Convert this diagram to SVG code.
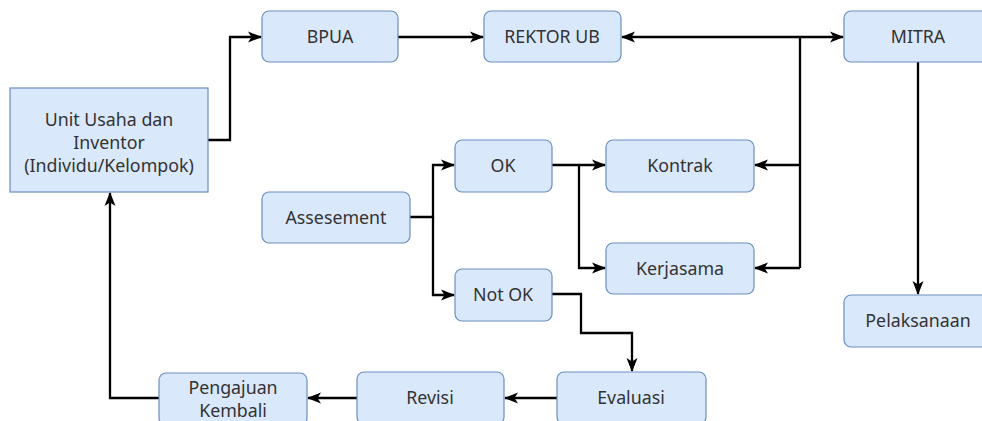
<svg xmlns="http://www.w3.org/2000/svg" width="982" height="421" viewBox="0 0 982 421">
<style>
.box{fill:#dae8fc;stroke:#6c8ebf;stroke-width:1.2}
.t{font-family:"Noto Sans","Open Sans",sans-serif;font-size:17.8px;fill:#333;text-anchor:middle}
.c{fill:none;stroke:#000;stroke-width:2.3}
</style>
<defs>
<marker id="arr" markerUnits="userSpaceOnUse" markerWidth="14" markerHeight="14" refX="13" refY="7" orient="auto-start-reverse" viewBox="0 0 14 14">
<path d="M0,1.5 L14,7 L0,12.5 L3.5,7 z" fill="#000"/>
</marker>
</defs>
<rect width="982" height="421" fill="#fff"/>
<g id="connectors">
<path class="c" d="M208,140 H230 V37 H261" marker-end="url(#arr)"/>
<path class="c" d="M398,37 H483" marker-end="url(#arr)"/>
<path class="c" d="M622,37 H843" marker-start="url(#arr)" marker-end="url(#arr)"/>
<path class="c" d="M800,37 V268"/>
<path class="c" d="M800,165 H755" marker-end="url(#arr)"/>
<path class="c" d="M800,268 H755" marker-end="url(#arr)"/>
<path class="c" d="M410,217 H433 V165 H454" marker-end="url(#arr)"/>
<path class="c" d="M433,217 V295 H454" marker-end="url(#arr)"/>
<path class="c" d="M552,165 H605" marker-end="url(#arr)"/>
<path class="c" d="M579,165 V268 H605" marker-end="url(#arr)"/>
<path class="c" d="M552,294 H581 V333 H632 V371" marker-end="url(#arr)"/>
<path class="c" d="M918,62 V294" marker-end="url(#arr)"/>
<path class="c" d="M557,398 H505" marker-end="url(#arr)"/>
<path class="c" d="M357,398 H308" marker-end="url(#arr)"/>
<path class="c" d="M159,398 H110 V193" marker-end="url(#arr)"/>
</g>
<g id="unit"><rect class="box" x="10" y="88" width="198" height="104"/>
<text class="t" x="109" y="126">Unit Usaha dan</text><text class="t" x="109" y="149">Inventor</text><text class="t" x="109" y="172">(Individu/Kelompok)</text></g>
<g id="bpua"><rect class="box" x="262" y="11" width="136" height="51" rx="7"/><text class="t" x="330" y="43">BPUA</text></g>
<g id="rektor"><rect class="box" x="484" y="11" width="137" height="51" rx="7"/><text class="t" x="552" y="43">REKTOR UB</text></g>
<g id="mitra"><rect class="box" x="844" y="11" width="148" height="51" rx="7"/><text class="t" x="918" y="43">MITRA</text></g>
<g id="ok"><rect class="box" x="455" y="140" width="97" height="52" rx="7"/><text class="t" x="503" y="172">OK</text></g>
<g id="kontrak"><rect class="box" x="606" y="140" width="148" height="52" rx="7"/><text class="t" x="680" y="172">Kontrak</text></g>
<g id="assesement"><rect class="box" x="262" y="192" width="148" height="51" rx="7"/><text class="t" x="336" y="224">Assesement</text></g>
<g id="kerjasama"><rect class="box" x="606" y="243" width="148" height="51" rx="7"/><text class="t" x="680" y="275">Kerjasama</text></g>
<g id="notok"><rect class="box" x="455" y="269" width="97" height="52" rx="7"/><text class="t" x="503" y="301">Not OK</text></g>
<g id="pelaksanaan"><rect class="box" x="844" y="295" width="148" height="52" rx="7"/><text class="t" x="918" y="327">Pelaksanaan</text></g>
<g id="evaluasi"><rect class="box" x="557" y="372" width="149" height="52" rx="7"/><text class="t" x="631" y="404">Evaluasi</text></g>
<g id="revisi"><rect class="box" x="357" y="372" width="147" height="52" rx="7"/><text class="t" x="430" y="404">Revisi</text></g>
<g id="pengajuan"><rect class="box" x="159" y="373" width="148" height="52" rx="7"/><text class="t" x="233" y="394">Pengajuan</text><text class="t" x="233" y="417">Kembali</text></g>
</svg>
